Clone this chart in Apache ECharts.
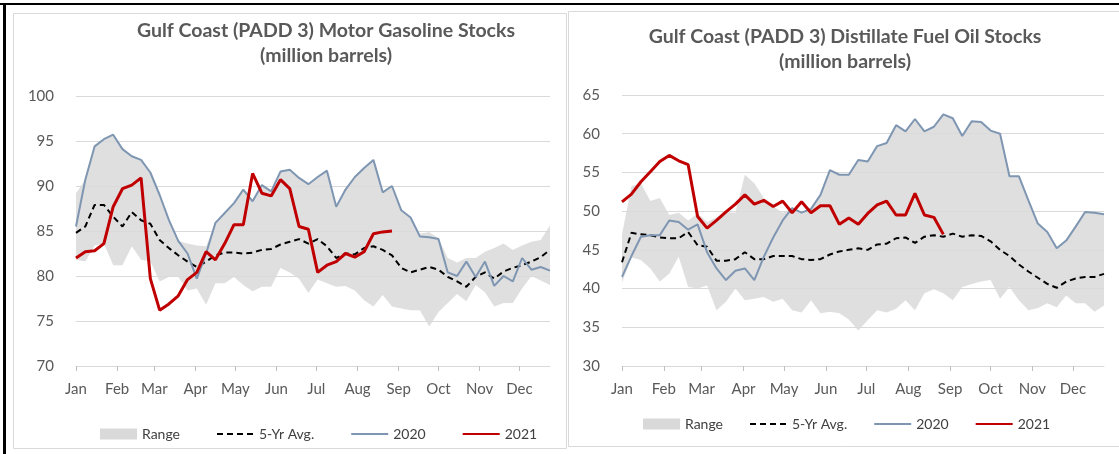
<!DOCTYPE html>
<html>
<head>
<meta charset="utf-8">
<script src="https://cdn.jsdelivr.net/npm/echarts@6/dist/echarts.min.js"></script>
<style>
html,body{margin:0;padding:0;background:#fff;}
#c{width:1119px;height:454px;}
</style>
</head>
<body>
<div id="c"></div>
<script>
// Weekly dates (x categories)
const weeks = ['2021-01-01','2021-01-08','2021-01-15','2021-01-22','2021-01-29',
  '2021-02-05','2021-02-12','2021-02-19','2021-02-26',
  '2021-03-05','2021-03-12','2021-03-19','2021-03-26',
  '2021-04-02','2021-04-09','2021-04-16','2021-04-23','2021-04-30',
  '2021-05-07','2021-05-14','2021-05-21','2021-05-28',
  '2021-06-04','2021-06-11','2021-06-18','2021-06-25',
  '2021-07-02','2021-07-09','2021-07-16','2021-07-23','2021-07-30',
  '2021-08-06','2021-08-13','2021-08-20','2021-08-27',
  '2021-09-03','2021-09-10','2021-09-17','2021-09-24',
  '2021-10-01','2021-10-08','2021-10-15','2021-10-22','2021-10-29',
  '2021-11-05','2021-11-12','2021-11-19','2021-11-26',
  '2021-12-03','2021-12-10','2021-12-17','2021-12-24'];

// Motor gasoline (million barrels)
const gasRangeLow = [81.8,81.6,83.4,83.6,81.2,81.2,83.3,81.8,81.6,79.4,79.9,79.9,78.4,78.6,76.8,79.2,79.2,79.9,79.0,78.3,78.8,78.8,80.9,80.4,79.7,78.1,79.6,79.2,78.8,78.9,78.4,77.3,76.6,77.9,76.6,76.4,76.2,76.2,74.4,76.0,77.0,78.0,77.2,79.0,78.2,76.6,77.0,77.0,78.6,80.0,79.5,79.0];
const gasRangeHigh = [89.2,90.7,94.4,95.2,95.7,94.1,93.3,92.9,91.5,89.0,86.2,83.9,83.6,83.4,83.3,85.9,87.0,88.1,89.6,88.3,90.1,89.4,91.6,91.8,90.9,90.2,91.0,91.7,87.7,89.6,91.0,92.0,92.9,89.3,90.0,87.3,86.5,84.7,84.9,84.2,82.0,81.5,82.0,82.0,82.7,83.1,83.6,82.9,83.4,83.8,84.0,85.6];
const gasAvg5 = [84.8,85.5,87.9,87.9,86.6,85.5,87.1,86.2,85.8,84.0,83.1,82.3,81.6,81.0,81.6,82.3,82.6,82.6,82.5,82.6,82.9,83.0,83.5,83.8,84.1,83.6,84.1,83.3,82.0,82.5,82.4,83.1,83.3,82.9,82.3,80.9,80.4,80.7,81.0,80.7,79.9,79.4,78.8,79.9,80.4,79.7,80.5,80.9,81.2,81.6,82.1,82.9];
const gas2020 = [85.5,90.7,94.4,95.2,95.7,94.1,93.3,92.9,91.5,89.0,86.2,83.9,82.5,79.7,82.5,85.9,87.0,88.1,89.6,88.3,90.1,89.4,91.6,91.8,90.9,90.2,91.0,91.7,87.7,89.6,91.0,92.0,92.9,89.3,90.0,87.3,86.5,84.4,84.3,84.1,80.4,80.0,81.6,79.9,81.6,78.9,80.0,79.4,82.0,80.7,81.0,80.6];
const gas2021 = [82.0,82.7,82.8,83.6,87.7,89.7,90.1,90.9,79.7,76.2,76.9,77.8,79.6,80.4,82.7,81.8,83.6,85.7,85.7,91.4,89.2,88.9,90.7,89.7,85.5,85.2,80.4,81.2,81.6,82.5,82.1,82.7,84.7,84.9,85.0];

// Distillate fuel oil (million barrels)
const distRangeLow = [40.8,44.0,43.7,42.6,40.9,41.9,44.1,40.2,40.0,40.4,37.2,38.3,40.0,38.5,38.7,38.9,38.3,38.7,37.2,36.9,38.5,36.8,37.0,36.8,36.0,34.6,35.9,37.2,36.9,37.4,38.5,37.2,39.4,39.9,39.4,38.5,40.2,40.6,40.9,41.1,38.7,40.2,38.5,37.2,37.5,38.1,37.6,39.1,38.1,38.1,37.0,37.8];
const distRangeHigh = [47.0,53.2,53.6,51.3,51.7,49.5,49.8,48.8,49.7,48.6,49.2,49.9,49.8,54.7,53.6,51.7,50.6,49.8,50.4,49.8,50.3,52.1,55.3,54.7,54.7,56.6,56.4,58.4,58.8,61.1,60.3,61.9,60.3,60.9,62.5,62.0,59.7,61.6,61.5,60.4,60.0,54.5,54.5,51.4,48.4,47.3,45.2,46.2,48.0,49.9,49.8,49.6];
const distAvg5 = [43.4,47.2,47.0,46.9,46.6,46.5,46.5,47.3,45.6,45.4,43.6,43.6,43.8,44.7,43.8,43.8,44.2,44.2,44.2,43.8,43.7,43.8,44.4,44.8,45.0,45.2,45.0,45.7,45.8,46.5,46.6,45.9,46.7,46.9,46.7,47.1,46.7,46.9,46.8,46.1,45.0,44.2,43.1,42.2,41.4,40.6,40.1,40.9,41.3,41.5,41.5,41.9];
const dist2020 = [41.5,44.2,46.7,46.9,46.9,48.8,48.6,47.6,48.3,44.7,42.6,41.1,42.3,42.6,41.1,44.1,46.6,48.8,50.4,49.8,50.3,52.1,55.3,54.7,54.7,56.6,56.4,58.4,58.8,61.1,60.3,61.9,60.3,60.9,62.5,62.0,59.7,61.6,61.5,60.4,60.0,54.5,54.5,51.4,48.4,47.3,45.2,46.2,48.0,49.9,49.8,49.6];
const dist2021 = [51.2,52.2,53.8,55.1,56.4,57.2,56.5,56.0,49.3,47.8,48.8,49.9,50.9,52.1,50.9,51.4,50.6,51.3,49.8,51.2,49.8,50.7,50.7,48.3,49.1,48.3,49.7,50.8,51.3,49.5,49.5,52.3,49.5,49.2,47.0];

const gasTicks = {min: 70, max: 100, interval: 5};
const distTicks = {min: 30, max: 65, interval: 5};

const FONT = 'Lato, "Open Sans", sans-serif';
const pairs = arr => arr.map((v, i) => [weeks[i], v]);
const diff = (hi, lo) => hi.map((v, i) => +(v - lo[i]).toFixed(2));

function xAxisCfg(gi) {
  return {
    type: 'time', gridIndex: gi,
    min: weeks[0], max: weeks[weeks.length - 1],
    splitNumber: 12,
    axisLine: {show: true, lineStyle: {color: '#d9d9d9', width: 1}},
    axisTick: {show: true, length: 5, lineStyle: {color: '#bfbfbf'}},
    splitLine: {show: false},
    axisLabel: {formatter: '{MMM}', color: '#595959', fontSize: 15, fontFamily: FONT, margin: 16}
  };
}
function yAxisCfg(gi, t) {
  return {
    type: 'value', gridIndex: gi, min: t.min, max: t.max, interval: t.interval,
    axisLine: {show: false}, axisTick: {show: false},
    splitLine: {lineStyle: {color: '#d9d9d9', width: 1}},
    axisLabel: {color: '#595959', fontSize: 15, fontFamily: FONT, margin: 22}
  };
}
function seriesFor(gi, lo, hi, avg, y20, y21) {
  const base = {type: 'line', xAxisIndex: gi, yAxisIndex: gi, symbol: 'none', showSymbol: false, animation: false};
  return [
    Object.assign({}, base, {name: 'rangeBase' + gi, stack: 'r' + gi, data: pairs(lo),
      lineStyle: {width: 0, opacity: 0}, silent: true}),
    Object.assign({}, base, {name: 'Range', stack: 'r' + gi, data: pairs(diff(hi, lo)),
      color: '#d9d9d9', itemStyle: {color: '#d9d9d9'},
      lineStyle: {width: 0, opacity: 0}, areaStyle: {color: '#d9d9d9', opacity: 0.85}}),
    Object.assign({}, base, {name: '5-Yr Avg.', data: pairs(avg), color: '#000',
      lineStyle: {color: '#000', width: 2, type: [6, 4]}}),
    Object.assign({}, base, {name: '2020', data: pairs(y20), color: '#7f96b2',
      lineStyle: {color: '#7f96b2', width: 2}}),
    Object.assign({}, base, {name: '2021', data: pairs(y21), color: '#c00000',
      lineStyle: {color: '#c00000', width: 3}})
  ];
}
function legendCfg(left, top, gap) {
  const noSym = {opacity: 0};
  return {
    left: left, top: top, padding: 0, itemGap: gap, itemWidth: 37, itemHeight: 11,
    textStyle: {color: '#404040', fontSize: 14, fontFamily: FONT},
    selectedMode: false,
    data: [{name: 'Range', icon: 'rect'},
      {name: '5-Yr Avg.', itemStyle: noSym},
      {name: '2020', itemStyle: noSym},
      {name: '2021', itemStyle: noSym}]
  };
}

const chart = echarts.init(document.getElementById('c'), null, {renderer: 'canvas'});
chart.setOption({
  animation: false,
  backgroundColor: '#fff',
  graphic: [
    {type: 'rect', shape: {x: 13.5, y: 13.5, width: 553, height: 435}, style: {fill: 'none', stroke: '#d9d9d9', lineWidth: 1}, z: -1},
    {type: 'rect', shape: {x: 568.5, y: 11.5, width: 560, height: 435}, style: {fill: 'none', stroke: '#d9d9d9', lineWidth: 1}, z: -1},
    {type: 'rect', shape: {x: 0, y: 3, width: 1119, height: 2}, style: {fill: '#000'}},
    {type: 'rect', shape: {x: 3, y: 3, width: 3, height: 451}, style: {fill: '#000'}}
  ],
  title: [
    {text: 'Gulf Coast (PADD 3) Motor Gasoline Stocks\n(million barrels)', left: 326, top: 18, textAlign: 'center', padding: 0,
      textStyle: {color: '#595959', fontSize: 19.5, fontWeight: 'bold', fontFamily: FONT, lineHeight: 25}},
    {text: 'Gulf Coast (PADD 3) Distillate Fuel Oil Stocks\n(million barrels)', left: 845, top: 24, textAlign: 'center', padding: 0,
      textStyle: {color: '#595959', fontSize: 19.5, fontWeight: 'bold', fontFamily: FONT, lineHeight: 25}}
  ],
  legend: [legendCfg(100, 427, 36), legendCfg(643, 417, 26)],
  grid: [
    {left: 76, top: 96, width: 474, height: 270},
    {left: 622, top: 95, width: 482, height: 271}
  ],
  xAxis: [xAxisCfg(0), xAxisCfg(1)],
  yAxis: [yAxisCfg(0, gasTicks), yAxisCfg(1, distTicks)],
  series: seriesFor(0, gasRangeLow, gasRangeHigh, gasAvg5, gas2020, gas2021)
    .concat(seriesFor(1, distRangeLow, distRangeHigh, distAvg5, dist2020, dist2021))
});
</script>
</body>
</html>
